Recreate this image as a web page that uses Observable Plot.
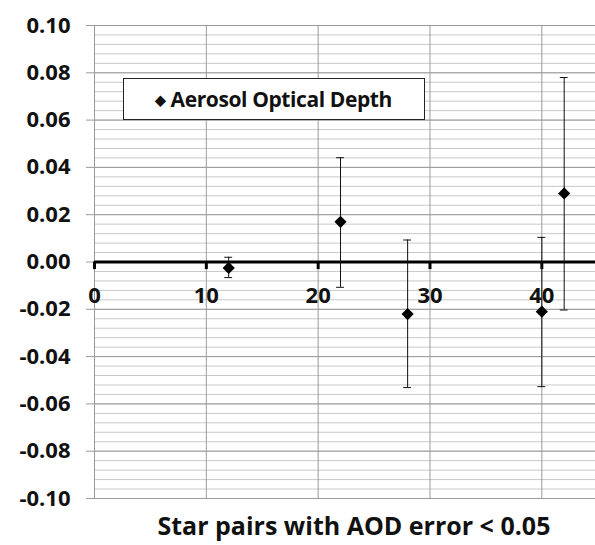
<!DOCTYPE html>
<html><head><meta charset="utf-8">
<script src="https://cdn.jsdelivr.net/npm/d3@7"></script>
<script src="https://cdn.jsdelivr.net/npm/@observablehq/plot@0.6"></script>
<style>
body{margin:0;background:#fff;font-family:"Open Sans",sans-serif;}
#wrap{position:relative;width:595px;height:545px;}
#legend{position:absolute;left:123px;top:78px;width:269px;height:40px;border:1.5px solid #222;background:#fff;
 font:bold 21px "Open Sans",sans-serif;color:#111;display:flex;align-items:center;padding-left:31px;box-sizing:content-box;letter-spacing:-0.4px;}
#legend .sym{font-size:14px;margin-right:5px;}
</style></head>
<body><div id="wrap"><div id="legend"><span class="sym">◆</span>Aerosol Optical Depth</div></div>
<script>
const seriesName = "Aerosol Optical Depth";
const xs = [12, 22, 28, 40, 42];
const ys = [-0.0025, 0.017, -0.022, -0.021, 0.029];
const yLow = [-0.0066, -0.0107, -0.0531, -0.0527, -0.0203];
const yHigh = [0.002, 0.0441, 0.0093, 0.0104, 0.078];
const xTicks = [0, 10, 20, 30, 40];
const yTicks = [-0.10, -0.08, -0.06, -0.04, -0.02, 0.00, 0.02, 0.04, 0.06, 0.08, 0.10];
const xTitle = "Star pairs with AOD error < 0.05";

const data = xs.map((x, i) => ({x, y: ys[i], lo: yLow[i], hi: yHigh[i]}));
const minor = d3.range(0, 51).map(i => -0.1 + i * 0.004);

const chart = Plot.plot({
  width: 595, height: 545,
  marginLeft: 94, marginRight: 0, marginTop: 25, marginBottom: 47,
  style: {fontFamily: "'Open Sans', sans-serif", background: "#fff", overflow: "visible"},
  x: {domain: [0, 44.8], axis: null},
  y: {domain: [-0.1, 0.1]},
  marks: [
    Plot.ruleY(minor, {stroke: "#c8c8c8", strokeWidth: 1}),
    Plot.ruleY(yTicks, {stroke: "#9a9a9a", strokeWidth: 1}),
    Plot.ruleX(xTicks, {stroke: "#9a9a9a", strokeWidth: 1}),
    Plot.axisY(yTicks, {tickSize: 8, tickPadding: 16, stroke: "#9a9a9a", tickFormat: d => d.toFixed(2),
      fontSize: 22, fontWeight: "bold", fill: "#111"}),
    Plot.ruleY([0], {stroke: "#000", strokeWidth: 3}),
    Plot.ruleX(xTicks, {x: d => d, y1: 0, y2: -0.0032, stroke: "#000", strokeWidth: 3}),
    Plot.text(xTicks, {x: d => d, y: () => 0, dy: 34, text: d => String(d), fontSize: 22, fontWeight: "bold", fill: "#111"}),
    Plot.ruleX(data, {x: "x", y1: "lo", y2: "hi", stroke: "#111", strokeWidth: 1}),
    Plot.ruleY(data, {y: "lo", x1: d => d.x - 0.35, x2: d => d.x + 0.35, stroke: "#111", strokeWidth: 1}),
    Plot.ruleY(data, {y: "hi", x1: d => d.x - 0.35, x2: d => d.x + 0.35, stroke: "#111", strokeWidth: 1}),
    Plot.dot(data, {x: "x", y: "y", symbol: "diamond2", r: 5.5, fill: "#000", stroke: "none"}),
    Plot.text([xTitle], {frameAnchor: "bottom", x: () => 23.2, dy: 36, text: d => d, fontSize: 25, fontWeight: "bold", fill: "#111"})
  ]
});
document.getElementById("wrap").prepend(chart);
chart.style.position = "absolute"; chart.style.left = "0"; chart.style.top = "0";
</script></body></html>
